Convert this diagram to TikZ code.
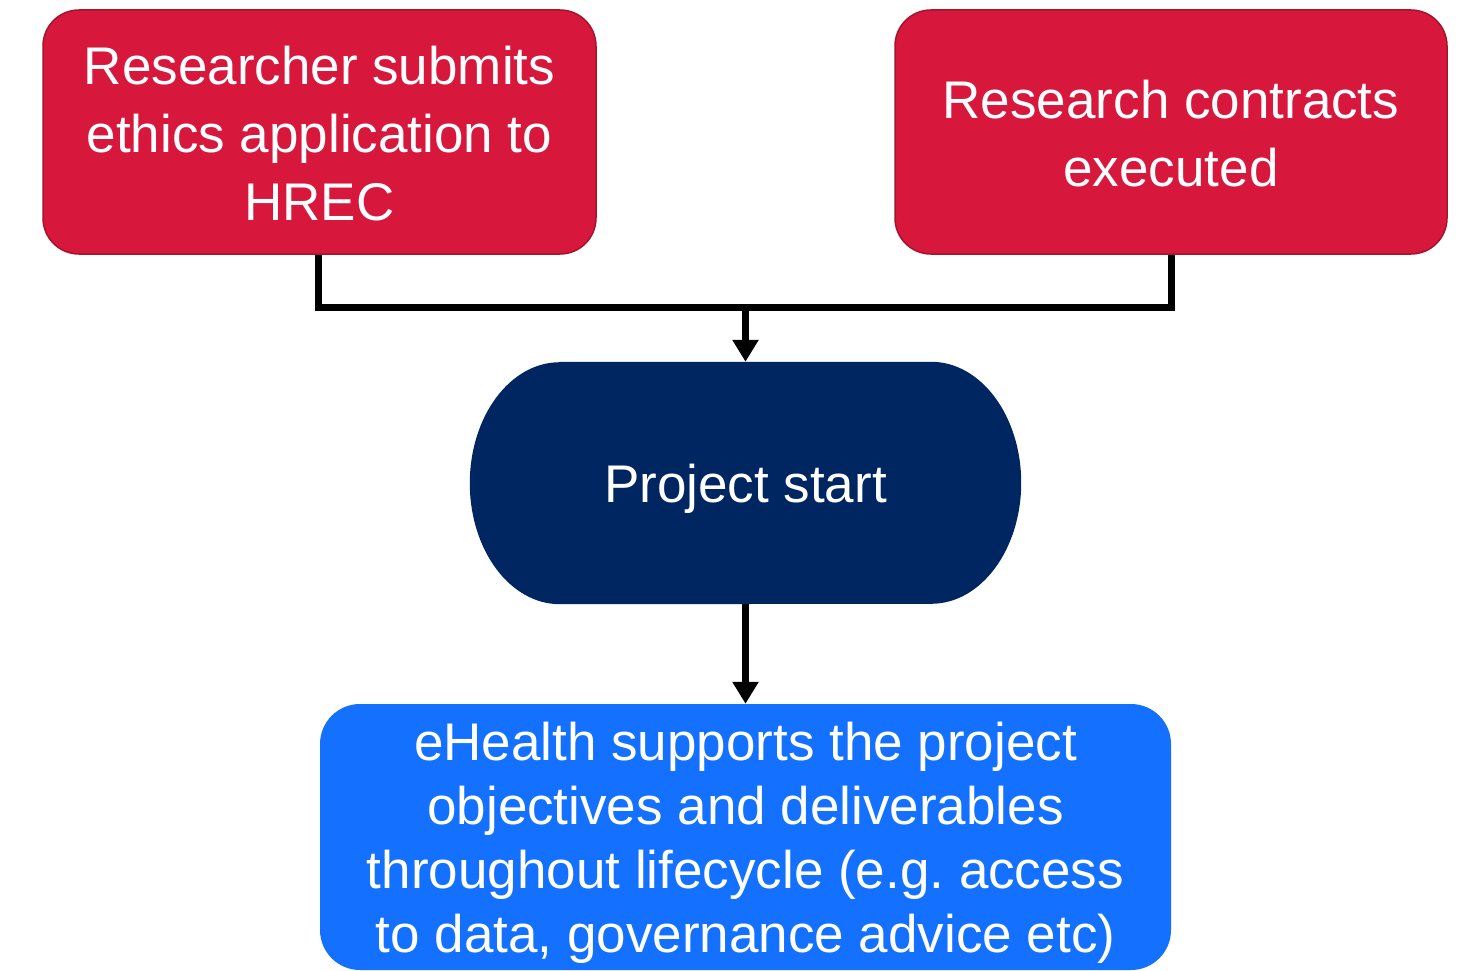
\documentclass[tikz,border=0pt]{standalone}
\usepackage{fontspec}
\setmainfont{Liberation Sans}
\usetikzlibrary{arrows.meta}
\frenchspacing
\definecolor{crim}{RGB}{215,23,60}
\definecolor{crimedge}{RGB}{165,20,45}
\definecolor{navyfill}{RGB}{0,38,98}
\definecolor{brightblue}{RGB}{20,112,255}
\tikzset{
  redbox/.style={fill=crim, draw=crimedge, line width=1.5pt, rounded corners=36pt, text=white, align=center, inner sep=0pt, font=\fontsize{53}{68}\selectfont},
  bluebox/.style={fill=brightblue, rounded corners=40pt, text=white, align=center, inner sep=0pt, font=\fontsize{53}{64}\selectfont},
  conn/.style={line width=7pt, line cap=butt},
  arr/.style={line width=7pt, -{Triangle[length=22pt,width=25pt]}},
}
\begin{document}
\begin{tikzpicture}[x=1pt,y=-1pt]
\useasboundingbox (0,0) rectangle (1475,971);
\fill[white] (0,0) rectangle (1475,971);
% red boxes
\node[redbox, minimum width=553pt, minimum height=244pt, text depth=0pt] (ethics) at (319.5,132) {};
\node[text=white, align=center, inner sep=0pt, font=\fontsize{53}{68}\selectfont] (ethicstext) at ([yshift=-2pt]ethics.center)
  {Researcher submits\\ethics application to\\HREC};
\node[redbox, minimum width=552pt, minimum height=244pt] (contracts) at (1171,132) {};
\node[text=white, align=center, inner sep=0pt, font=\fontsize{53}{68}\selectfont] (contractstext) at ([yshift=-2pt]contracts.center)
  {Research contracts\\executed};
% project start stadium
\node[minimum width=551pt, minimum height=242pt, inner sep=0pt] (start) at (745.5,483) {};
\fill[navyfill] ([xshift=90pt]start.north west) -- ([xshift=-90pt]start.north east)
  arc[start angle=90, end angle=-90, x radius=90pt, y radius=121pt]
  -- ([xshift=90pt]start.south west)
  arc[start angle=270, end angle=90, x radius=90pt, y radius=121pt] -- cycle;
\node[text=white, font=\fontsize{53}{64}\selectfont] (starttext) at ([yshift=-6pt]start.center) {Project start};
% blue box
\node[bluebox, minimum width=851pt, minimum height=266pt] (ehealth) at (745.5,837) {};
\node[text=white, align=center, inner sep=0pt, font=\fontsize{53}{64}\selectfont] (ehealthtext) at ([yshift=-6pt]ehealth.center)
  {eHealth supports the project\\objectives and deliverables\\throughout lifecycle (e.g. access\\to data, governance advice etc)};
% connectors
\coordinate (join) at (745.5,307);
\draw[conn] (ethics.south -| 318,0) |- (join) -| (contracts.south);
\draw[arr] (join) -- (start.north);
\draw[arr] (start.south) -- (ehealth.north);
\end{tikzpicture}
\end{document}
